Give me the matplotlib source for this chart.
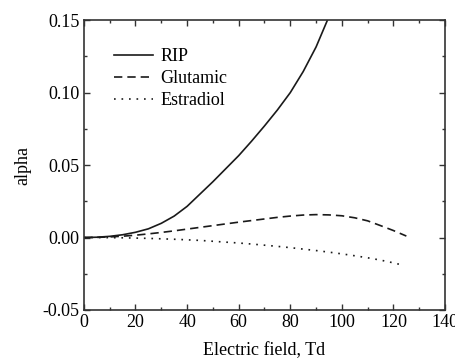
import matplotlib
matplotlib.use('Agg')
import matplotlib.pyplot as plt
from matplotlib.ticker import MultipleLocator

plt.rcParams['font.family'] = ['Liberation Serif', 'DejaVu Serif']

# values
x_rip = [0, 5, 10, 15, 20, 25, 30, 35, 40, 45, 50, 55, 60, 65, 70, 75, 80, 85, 90, 95]
rip = [0.0, 0.0002, 0.0008, 0.0019, 0.0036, 0.0060, 0.0098, 0.0148, 0.0215, 0.0300,
       0.0385, 0.0475, 0.0565, 0.0665, 0.0770, 0.0880, 0.1000, 0.1145, 0.1315, 0.1525]

x_glu = [0, 5, 10, 15, 20, 25, 30, 35, 40, 45, 50, 55, 60, 65, 70, 75, 80, 85, 90,
         95, 100, 105, 110, 115, 120, 125]
glu = [0.0, 0.0001, 0.0004, 0.0009, 0.0016, 0.0025, 0.0035, 0.0046, 0.0058, 0.0070,
       0.0082, 0.0094, 0.0106, 0.0117, 0.0128, 0.0139, 0.0148, 0.0155, 0.0158,
       0.0156, 0.0150, 0.0136, 0.0115, 0.0082, 0.0048, 0.0010]

x_est = [0, 5, 10, 15, 20, 25, 30, 35, 40, 45, 50, 55, 60, 65, 70, 75, 80, 85, 90,
         95, 100, 105, 110, 115, 120, 123]
est = [0.0, 0.0, -0.0001, -0.0002, -0.0004, -0.0006, -0.0009, -0.0012, -0.0016, -0.0020,
       -0.0026, -0.0032, -0.0038, -0.0045, -0.0053, -0.0061, -0.0070, -0.0080, -0.0090,
       -0.0101, -0.0113, -0.0126, -0.0140, -0.0156, -0.0175, -0.0188]

fig = plt.figure(figsize=(4.56, 3.6), dpi=100)
ax = fig.add_axes([0.184, 0.139, 0.792, 0.805])

ink = '#1a1a1a'
ax.plot(x_rip, rip, color=ink, lw=1.2, label='RIP')
ax.plot(x_glu, glu, color=ink, lw=1.2, dashes=(5, 3), label='Glutamic')
ax.plot(x_est, est, color=ink, lw=1.2, dashes=(1, 3.5), label='Estradiol')

ax.set_xlim(0, 140)
ax.set_ylim(-0.05, 0.15)
ax.xaxis.set_major_locator(MultipleLocator(20))
ax.xaxis.set_minor_locator(MultipleLocator(10))
ax.yaxis.set_major_locator(MultipleLocator(0.05))
ax.yaxis.set_minor_locator(MultipleLocator(0.025))
ax.yaxis.set_major_formatter(matplotlib.ticker.FormatStrFormatter('%.2f'))

ax.tick_params(which='both', direction='in', top=True, right=True, width=1, color='#333333')
ax.tick_params(which='major', length=4.5, labelsize=13, pad=3)
ax.tick_params(which='minor', length=2.5)
for s in ax.spines.values():
    s.set_linewidth(1.2)
    s.set_color('#333333')

ax.set_xlabel('Electric field, Td', fontsize=13, labelpad=8)
ax.set_ylabel('alpha', fontsize=13, labelpad=8)

ax.legend(loc='upper left', frameon=False, fontsize=13, handlelength=2.2,
          handletextpad=0.4, labelspacing=0.28, bbox_to_anchor=(0.037, 0.96))

fig.savefig('out.png', dpi=100)
